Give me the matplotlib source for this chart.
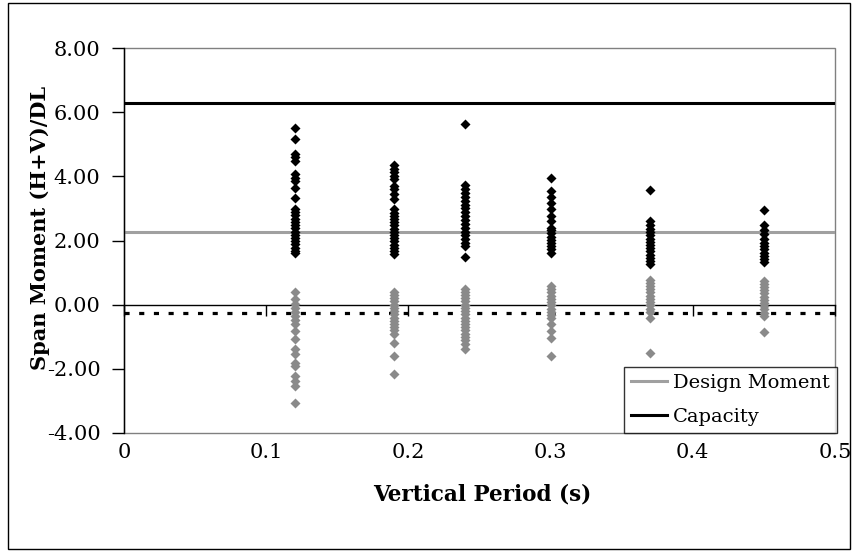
import numpy as np
import matplotlib
matplotlib.use('Agg')
import matplotlib.pyplot as plt
from matplotlib.patches import Rectangle

# Periodos verticales (s) de cada columna de puntos
periods = [0.12, 0.19, 0.24, 0.30, 0.37, 0.45]

# Momento maximo (H+V)/DL por periodo (puntos negros)
max_012 = [5.50, 5.15, 4.70, 4.60, 4.48, 4.06, 3.95, 3.85, 3.64, 3.34, 2.97, 2.88, 2.78,
           2.68, 2.58, 2.48, 2.38, 2.28, 2.18, 2.08, 1.98, 1.88, 1.78, 1.68, 1.61]
max_019 = [4.34, 4.23, 4.13, 4.02, 3.92, 3.71, 3.60, 3.45, 3.29, 2.97, 2.87, 2.77, 2.67,
           2.57, 2.47, 2.37, 2.27, 2.17, 2.07, 1.97, 1.87, 1.77, 1.67, 1.58]
max_024 = [5.62, 3.72, 3.60, 3.48, 3.36, 3.24, 3.12, 3.00, 2.88, 2.76, 2.64, 2.52, 2.40,
           2.28, 2.16, 2.04, 1.92, 1.82, 1.50]
max_030 = [3.95, 3.55, 3.35, 3.18, 2.97, 2.77, 2.61, 2.40, 2.32, 2.22, 2.12, 2.02, 1.92,
           1.82, 1.72, 1.62]
max_037 = [3.58, 2.62, 2.48, 2.36, 2.26, 2.16, 2.06, 1.96, 1.86, 1.76, 1.66, 1.56, 1.46,
           1.36, 1.28]
max_045 = [2.95, 2.48, 2.33, 2.20, 2.05, 1.92, 1.82, 1.72, 1.62, 1.52, 1.42, 1.32]

# Momento minimo (H+V)/DL por periodo (puntos grises)
min_012 = [0.40, 0.19, 0.03, -0.10, -0.22, -0.35, -0.48, -0.60, -0.81, -1.07, -1.39,
           -1.55, -1.81, -1.92, -2.23, -2.39, -2.55, -3.07]
min_019 = [0.40, 0.30, 0.20, 0.10, 0.00, -0.10, -0.20, -0.30, -0.40, -0.50, -0.60, -0.70,
           -0.80, -0.91, -1.18, -1.60, -2.15]
min_024 = [0.50, 0.40, 0.30, 0.20, 0.10, 0.00, -0.10, -0.20, -0.30, -0.40, -0.50, -0.60,
           -0.70, -0.80, -0.90, -1.00, -1.10, -1.22, -1.38]
min_030 = [0.58, 0.48, 0.38, 0.28, 0.18, 0.08, -0.02, -0.12, -0.22, -0.32, -0.40, -0.60,
           -0.82, -1.05, -1.60]
min_037 = [0.78, 0.68, 0.58, 0.48, 0.38, 0.28, 0.18, 0.08, -0.02, -0.12, -0.22, -0.42, -1.52]
min_045 = [0.75, 0.65, 0.55, 0.45, 0.35, 0.25, 0.15, 0.05, -0.05, -0.15, -0.25, -0.35, -0.85]

max_series = [max_012, max_019, max_024, max_030, max_037, max_045]
min_series = [min_012, min_019, min_024, min_030, min_037, min_045]

# Lineas horizontales de referencia
design_moment = 2.27
capacity = 6.30
dead_load = -0.26

xticks = [0, 0.1, 0.2, 0.3, 0.4, 0.5]
xtick_labels = ['0', '0.1', '0.2', '0.3', '0.4', '0.5']
yticks = [-4, -2, 0, 2, 4, 6, 8]
ytick_labels = ['-4.00', '-2.00', '0.00', '2.00', '4.00', '6.00', '8.00']

plt.rcParams['font.family'] = ['DejaVu Serif']

W, H = 858, 552
fig = plt.figure(figsize=(W / 100, H / 100), dpi=100)
ax = fig.add_axes([124 / W, 1 - 433 / H, (835 - 124) / W, (433 - 48) / H])

gray_line = '#a0a0a0'
gray_pt = '#8a8a8a'

ax.axhline(capacity, color='black', lw=2.2, label='Capacity', zorder=2)
ax.axhline(design_moment, color=gray_line, lw=2.2, label='Design Moment', zorder=2)
ax.axhline(dead_load, color='black', lw=2.3, linestyle=(0, (1.6, 3.0)), zorder=2)

for p, vals in zip(periods, min_series):
    ax.plot([p] * len(vals), vals, 'D', color=gray_pt, ms=5.4, mec='none', zorder=3)
for p, vals in zip(periods, max_series):
    ax.plot([p] * len(vals), vals, 'D', color='black', ms=5.4, mec='none', zorder=4)

ax.set_xlim(0, 0.5)
ax.set_ylim(-4, 8)

# Eje x cruza en cero (estilo Excel), etiquetas abajo
ax.spines['bottom'].set_position(('data', 0))
ax.spines['bottom'].set_linewidth(1)
ax.spines['bottom'].set_zorder(2.5)
for s in ['top', 'right']:
    ax.spines[s].set_visible(False)
ax.spines['left'].set_linewidth(1)
ax.add_patch(Rectangle((0, 0), 1, 1, transform=ax.transAxes, fill=False,
                       ec='#808080', lw=1, clip_on=False, zorder=1))

ax.set_xticks(xticks)
ax.tick_params(axis='x', direction='out', length=8, width=1, labelbottom=False)
ax.set_yticks(yticks)
ax.set_yticklabels(ytick_labels)
ax.tick_params(axis='y', direction='out', length=9, width=1, pad=8, labelsize=15)

sec = ax.secondary_xaxis(0)
sec.set_xticks(xticks)
sec.set_xticklabels(xtick_labels)
sec.tick_params(length=0, pad=7, labelsize=15)
sec.spines['bottom'].set_visible(False)

fig.text(482 / W, 1 - 495 / H, 'Vertical Period (s)', ha='center', va='center',
         fontsize=15.5, fontweight='bold')
fig.text(40 / W, 1 - 228 / H, 'Span Moment (H+V)/DL', ha='center', va='center',
         rotation=90, fontsize=15, fontweight='bold')

handles, labels = ax.get_legend_handles_labels()
leg = ax.legend(handles[::-1], labels[::-1], loc='lower right',
                bbox_to_anchor=(837 / W, 1 - 433 / H), bbox_transform=fig.transFigure,
                borderaxespad=0, fontsize=14, frameon=True, fancybox=False,
                handlelength=1.9, handletextpad=0.3, borderpad=0.35, labelspacing=0.85)
leg.get_frame().set_edgecolor('black')
leg.get_frame().set_linewidth(1)
leg.set_zorder(6)

# Borde exterior del grafico
fig.add_artist(Rectangle((8 / W, 1 - 549 / H), (850 - 8) / W, (549 - 3) / H,
                         transform=fig.transFigure, fill=False, ec='black', lw=1))

plt.savefig('out.png', dpi=100)
plt.close()
